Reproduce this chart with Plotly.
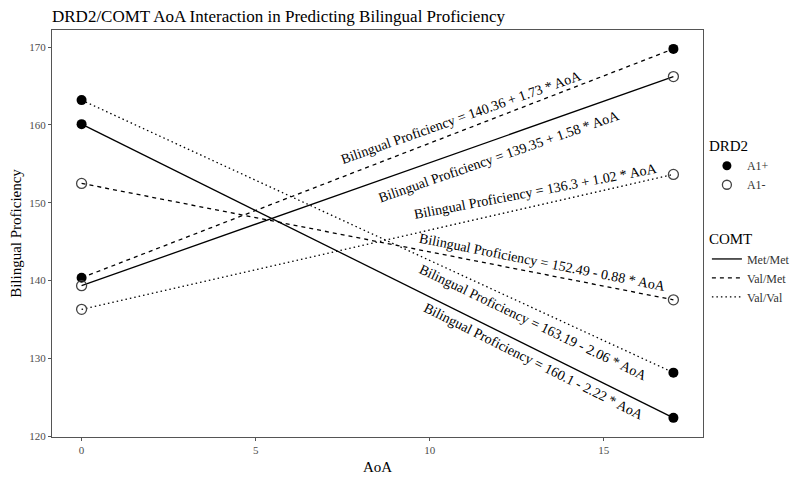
import plotly.graph_objects as go

# group labels
drd2_levels = ['A1+', 'A1-']
comt_levels = ['Met/Met', 'Val/Met', 'Val/Val']

# regression intercepts / slopes per group
intercept_a1p = [160.1, 140.36, 163.19]
slope_a1p = [-2.22, 1.73, -2.06]
intercept_a1m = [139.35, 152.49, 136.3]
slope_a1m = [1.58, -0.88, 1.02]

aoa = [0, 17]

# where the equation labels sit (AoA, proficiency) and their tilt
label_x_a1p = [12.99, 10.9, 12.97]
label_y_a1p = [129.65, 161.0, 134.67]
label_x_a1m = [12.0, 13.25, 13.03]
label_y_a1m = [155.9, 142.3, 151.5]
label_angle_a1p = [26.6, -19.5, 25.6]
label_angle_a1m = [-19.2, 11.2, -10.8]

dashes = {'Met/Met': 'solid', 'Val/Met': '4px,4px', 'Val/Val': '1.5px,3px'}
FONT = 'Liberation Serif, Times New Roman, serif'

fig = go.Figure()
annotations = []

groups = [('A1+', intercept_a1p, slope_a1p, label_x_a1p, label_y_a1p, label_angle_a1p),
          ('A1-', intercept_a1m, slope_a1m, label_x_a1m, label_y_a1m, label_angle_a1m)]

for drd2, intercepts, slopes, lx, ly, la in groups:
    for i, comt in enumerate(comt_levels):
        b0, b1 = intercepts[i], slopes[i]
        ys = [b0 + b1 * a for a in aoa]
        if drd2 == 'A1+':
            marker = dict(symbol='circle', size=10, color='black')
        else:
            marker = dict(symbol='circle-open', size=10, color='#444444', line=dict(width=1.3))
        fig.add_trace(go.Scatter(x=aoa, y=ys, mode='lines+markers',
                                 line=dict(color='black', width=1.3, dash=dashes[comt]),
                                 marker=marker, showlegend=False, hoverinfo='skip'))
        sign = '+' if b1 >= 0 else '-'
        text = f'Bilingual Proficiency = {b0:g} {sign} {abs(b1):g} * AoA'
        annotations.append(dict(x=lx[i], y=ly[i], text=text, showarrow=False,
                                textangle=la[i], font=dict(family=FONT, size=14, color='black'),
                                xref='x', yref='y'))

# legend-only traces
fig.add_trace(go.Scatter(x=[None], y=[None], mode='markers', name='A1+',
                         marker=dict(symbol='circle', size=9, color='black'), legend='legend'))
fig.add_trace(go.Scatter(x=[None], y=[None], mode='markers', name='A1-',
                         marker=dict(symbol='circle-open', size=9, color='#444444', line=dict(width=1.3)),
                         legend='legend'))
for comt in comt_levels:
    fig.add_trace(go.Scatter(x=[None], y=[None], mode='lines', name=comt,
                             line=dict(color='black', width=1.3, dash=dashes[comt]), legend='legend2'))

axis_common = dict(showgrid=False, zeroline=False, showline=True, mirror=True, automargin=False,
                   linecolor='#555555', linewidth=1, ticks='outside', ticklen=3,
                   tickcolor='#555555', tickfont=dict(family=FONT, size=11, color='#4d4d4d'))

fig.update_xaxes(range=[-0.85, 17.85], tickvals=[0, 5, 10, 15],
                 title=dict(text='AoA', font=dict(family=FONT, size=15, color='black'), standoff=6),
                 **axis_common)
fig.update_yaxes(range=[119.9, 172.2], tickvals=[120, 130, 140, 150, 160, 170],
                 title=dict(text='Bilingual Proficiency', font=dict(family=FONT, size=15, color='black'), standoff=6),
                 **axis_common)

# page body adds an 8px margin, so the figure is a little smaller than the window
fig.update_layout(
    width=792, height=469,
    margin=dict(l=44, r=97, t=22, b=40, autoexpand=False),
    plot_bgcolor='white', paper_bgcolor='white',
    font=dict(family=FONT),
    title=dict(text='DRD2/COMT AoA Interaction in Predicting Bilingual Proficiency',
               xref='paper', x=0, xanchor='left', yref='container', y=0.982, yanchor='middle',
               font=dict(family=FONT, size=17, color='black')),
    annotations=annotations,
    legend=dict(title=dict(text='DRD2', font=dict(size=15, color='black')), x=1.006, y=0.75,
                xanchor='left', yanchor='top', font=dict(size=12, color='#333333'),
                bgcolor='rgba(0,0,0,0)', itemwidth=30, tracegroupgap=2),
    legend2=dict(title=dict(text='COMT', font=dict(size=15, color='black')), x=1.006, y=0.521,
                 xanchor='left', yanchor='top', font=dict(size=12, color='#333333'),
                 bgcolor='rgba(0,0,0,0)', itemwidth=30, tracegroupgap=2),
)

fig.write_html('out.html')
